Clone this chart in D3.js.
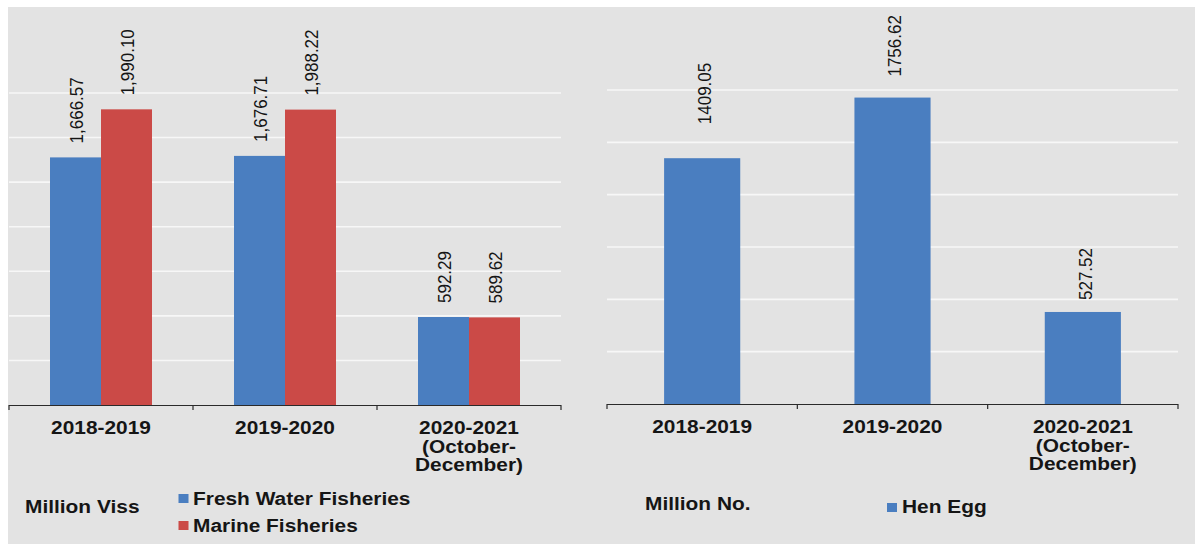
<!DOCTYPE html>
<html>
<head>
<meta charset="utf-8">
<script src="https://cdn.jsdelivr.net/npm/d3@7/dist/d3.min.js"></script>
<style>
  html, body { margin: 0; padding: 0; background: #ffffff; }
  svg { display: block; font-family: "Liberation Sans", Arial, sans-serif; }
</style>
</head>
<body>
<svg id="chart" width="1195" height="544"></svg>
<script>
// ---------- data ----------
const categories = ["2018-2019", "2019-2020", "2020-2021\n(October-\nDecember)"];
const fishSeries = ["Fresh Water Fisheries", "Marine Fisheries"];
const freshWater = [1666.57, 1676.71, 592.29];
const marine = [1990.10, 1988.22, 589.62];
const fishLabels = [["1,666.57", "1,990.10"], ["1,676.71", "1,988.22"], ["592.29", "589.62"]];
const eggSeries = ["Hen Egg"];
const henEgg = [1409.05, 1756.62, 527.52];
const eggLabels = ["1409.05", "1756.62", "527.52"];
const fishTicks = [300, 600, 900, 1200, 1500, 1800, 2100];
const eggTicks = [300, 600, 900, 1200, 1500, 1800];
const fishUnit = "Million Viss";
const eggUnit = "Million No.";

// ---------- styles ----------
const BLUE = "#4a7ec0", RED = "#cb4a47", BG = "#e3e3e3", GRID = "#f7f7f7", TEXT = "#151515";
const SX = 1.13; // horizontal stretch of the original picture
const eggLabelLift = [34, 21, 12];

const svg = d3.select("#chart");
svg.append("rect").attr("x", 8).attr("y", 7).attr("width", 1187).attr("height", 537).attr("fill", BG);

function stretchedText(g, x, y, txt, opts) {
  const t = g.append("text")
    .attr("transform", `translate(${x},${y}) scale(${SX},1)` + (opts.rotate ? " rotate(-90)" : ""))
    .attr("fill", TEXT)
    .attr("font-size", opts.size)
    .attr("font-weight", opts.bold ? "bold" : "normal")
    .attr("text-anchor", opts.anchor || "start")
    .text(txt);
  if (opts.dy) t.attr("dy", opts.dy);
  return t;
}

function drawFrame(x, y, ticks, yBase) {
  const [x0, x1] = x.range();
  // gridlines
  svg.append("g").selectAll("line").data(ticks).join("line")
    .attr("x1", x0).attr("x2", x1)
    .attr("y1", d => y(d)).attr("y2", d => y(d))
    .attr("stroke", GRID).attr("stroke-width", 1.6);
}

function drawAxis(x, y) {
  const [x0, x1] = x.range();
  const yb = y(0);
  const g = svg.append("g");
  g.append("line").attr("x1", x0).attr("x2", x1).attr("y1", yb + 0.5).attr("y2", yb + 0.5)
    .attr("stroke", "#2a2a2a").attr("stroke-width", 1.2);
  const edges = categories.map(c => x(c)).concat([x1]);
  g.selectAll("line.tk").data(edges).join("line").attr("class", "tk")
    .attr("x1", d => d).attr("x2", d => d).attr("y1", yb).attr("y2", yb + 5)
    .attr("stroke", "#2a2a2a").attr("stroke-width", 1.2);
  // category labels
  categories.forEach(c => {
    const cx = x(c) + x.bandwidth() / 2;
    c.split("\n").forEach((line, i) => {
      stretchedText(svg, cx, yb + 29 + i * 18.5, line, { size: 18.5, bold: true, anchor: "middle" });
    });
  });
}

// ---------- left chart: fisheries ----------
const xL = d3.scaleBand().domain(categories).range([9, 561]).paddingInner(0).paddingOuter(0);
const yL = d3.scaleLinear().domain([0, 2100]).range([405, 93]);
const xLs = d3.scaleBand().domain(fishSeries).range([0, xL.bandwidth()]).paddingInner(0).paddingOuter(0.804);
drawFrame(xL, yL, fishTicks);

const fishData = categories.map((c, i) => [
  { cat: c, s: fishSeries[0], v: freshWater[i], lab: fishLabels[i][0], color: BLUE },
  { cat: c, s: fishSeries[1], v: marine[i], lab: fishLabels[i][1], color: RED }
]).flat();

svg.append("g").selectAll("rect").data(fishData).join("rect")
  .attr("x", d => xL(d.cat) + xLs(d.s))
  .attr("width", xLs.bandwidth())
  .attr("y", d => yL(d.v))
  .attr("height", d => yL(0) - yL(d.v))
  .attr("fill", d => d.color);

fishData.forEach(d => {
  const cx = xL(d.cat) + xLs(d.s) + xLs.bandwidth() / 2 + 1;
  stretchedText(svg, cx, yL(d.v) - 14, d.lab, { size: 17, rotate: true, dy: "0.35em" });
});
drawAxis(xL, yL);

// left legend
stretchedText(svg, 25, 513, fishUnit, { size: 18.5, bold: true });
[[BLUE, 505], [RED, 532]].forEach(([col, by], i) => {
  svg.append("rect").attr("x", 178.5).attr("y", by - 11).attr("width", 10).attr("height", 9).attr("fill", col);
  stretchedText(svg, 193, by, fishSeries[i], { size: 18.5, bold: true });
});

// ---------- right chart: hen egg ----------
const xR = d3.scaleBand().domain(categories).range([607, 1178]).paddingInner(0).paddingOuter(0);
const yR = d3.scaleLinear().domain([0, 1800]).range([404, 90]);
drawFrame(xR, yR, eggTicks);

const eggData = categories.map((c, i) => ({ cat: c, v: henEgg[i], lab: eggLabels[i], lift: eggLabelLift[i] }));
const barW = xR.bandwidth() * 0.4;
svg.append("g").selectAll("rect").data(eggData).join("rect")
  .attr("x", d => xR(d.cat) + (xR.bandwidth() - barW) / 2)
  .attr("width", barW)
  .attr("y", d => yR(d.v))
  .attr("height", d => yR(0) - yR(d.v))
  .attr("fill", BLUE);

eggData.forEach(d => {
  const cx = xR(d.cat) + xR.bandwidth() / 2 + 2;
  stretchedText(svg, cx, yR(d.v) - d.lift, d.lab, { size: 17, rotate: true, dy: "0.35em" });
});
drawAxis(xR, yR);

// right legend
stretchedText(svg, 645, 510, eggUnit, { size: 18.5, bold: true });
svg.append("rect").attr("x", 887).attr("y", 503).attr("width", 10).attr("height", 9).attr("fill", BLUE);
stretchedText(svg, 902, 513, eggSeries[0], { size: 18.5, bold: true });
</script>
</body>
</html>
